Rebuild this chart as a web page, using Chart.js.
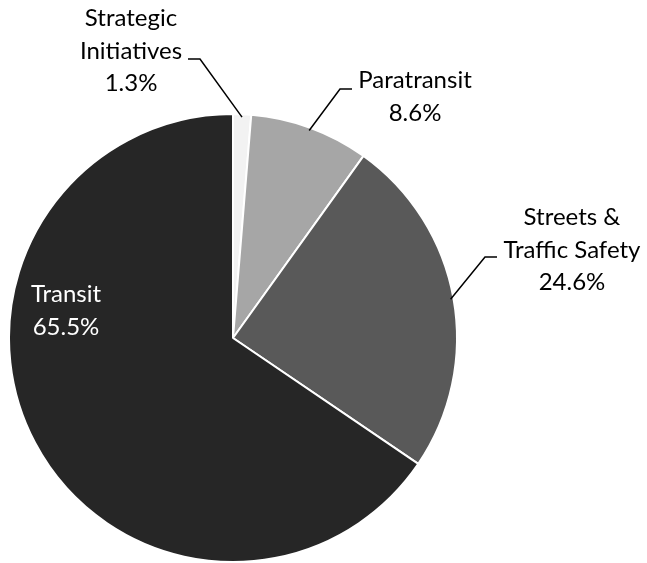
<!DOCTYPE html>
<html lang="en">
<head>
    <meta charset="UTF-8">
    <title>Budget Allocation</title>
    <script src="https://cdn.jsdelivr.net/npm/chart.js@4.4.1/dist/chart.umd.min.js"></script>
    <style>
        html, body { margin: 0; padding: 0; background: #fff; }
        #wrap { width: 647px; height: 563px; }
    </style>
</head>
<body>
    <div id="wrap"><canvas id="pieChart"></canvas></div>

    <script>
        const categories = ["Strategic Initiatives", "Paratransit", "Streets & Traffic Safety", "Transit"];
        const shares = [1.3, 8.6, 24.6, 65.5];
        const sliceColors = ["#f2f2f2", "#a6a6a6", "#595959", "#262626"];

        // label lines and where each text block sits (center x, first baseline y)
        const labelText = [
            ["Strategic", "Initiatives", "1.3%"],
            ["Paratransit", "8.6%"],
            ["Streets &", "Traffic Safety", "24.6%"],
            ["Transit", "65.5%"]
        ];
        const labelPos = [
            { x: 131, y: 26, color: "#000", lead: [[200, 59], [188, 59]] },
            { x: 415, y: 88, color: "#000", lead: [[340, 89], [352, 89]] },
            { x: 572, y: 225, color: "#000", lead: [[485, 257], [497, 257]] },
            { x: 66, y: 302, color: "#fff", lead: null }
        ];

        const labelPlugin = {
            id: "pieLabels",
            afterDatasetsDraw(chart) {
                const ctx = chart.ctx;
                const arcs = chart.getDatasetMeta(0).data;
                ctx.save();
                ctx.font = "24px Lato, 'Open Sans', sans-serif";
                ctx.textAlign = "center";
                ctx.textBaseline = "alphabetic";
                arcs.forEach((arc, i) => {
                    const p = labelPos[i];
                    if (p.lead) {
                        const mid = (arc.startAngle + arc.endAngle) / 2;
                        const r = arc.outerRadius - 3;
                        ctx.beginPath();
                        ctx.strokeStyle = "#000";
                        ctx.lineWidth = 1.5;
                        ctx.moveTo(arc.x + Math.cos(mid) * r, arc.y + Math.sin(mid) * r);
                        p.lead.forEach(pt => ctx.lineTo(pt[0], pt[1]));
                        ctx.stroke();
                    }
                    ctx.fillStyle = p.color;
                    labelText[i].forEach((line, j) => {
                        ctx.fillText(line, p.x, p.y + j * 32.5);
                    });
                });
                ctx.restore();
            }
        };

        new Chart(document.getElementById("pieChart"), {
            type: "pie",
            data: {
                labels: categories,
                datasets: [{
                    data: shares,
                    backgroundColor: sliceColors,
                    borderColor: "#ffffff",
                    borderWidth: 2
                }]
            },
            options: {
                responsive: true,
                maintainAspectRatio: false,
                animation: false,
                layout: { padding: { left: 7, right: 188, top: 113, bottom: -2 } },
                plugins: {
                    legend: { display: false },
                    tooltip: { enabled: false }
                }
            },
            plugins: [labelPlugin]
        });
    </script>
</body>
</html>
